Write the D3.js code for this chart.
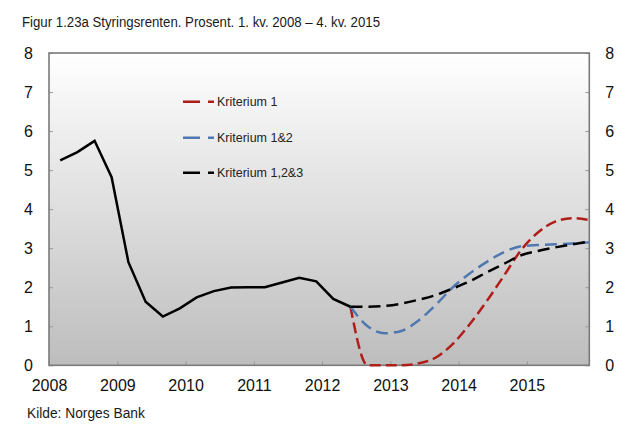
<!DOCTYPE html>
<html>
<head>
<meta charset="utf-8">
<script src="https://cdn.jsdelivr.net/npm/d3@7"></script>
<style>
  html, body { margin: 0; padding: 0; background: #fff; }
  svg { display: block; font-family: "Liberation Sans", Arial, sans-serif; }
</style>
</head>
<body>
<svg id="chart" width="643" height="437"></svg>
<script>
// ---- Data ----
const quarters = ["2008-03","2008-06","2008-09","2008-12","2009-03","2009-06","2009-09","2009-12",
  "2010-03","2010-06","2010-09","2010-12","2011-03","2011-06","2011-09","2011-12",
  "2012-03","2012-06","2012-09","2012-12","2013-03","2013-06","2013-09","2013-12",
  "2014-03","2014-06","2014-09","2014-12","2015-03","2015-06","2015-09","2015-12"];
const historic = [5.25,5.46,5.75,4.82,2.64,1.63,1.25,1.46,1.74,1.90,1.99,2.00,2.00,2.12,2.24,2.15,1.70,1.50];
// forecasts start at 2012 Q2 (index 17)
const kriterium1   = [1.50,0.00,0.00,0.00,0.05,0.20,0.55,1.05,1.65,2.30,2.95,3.40,3.68,3.77,3.72];
const kriterium12  = [1.50,1.00,0.82,0.88,1.15,1.55,2.00,2.35,2.65,2.90,3.05,3.08,3.10,3.12,3.15];
const kriterium123 = [1.50,1.50,1.52,1.58,1.68,1.80,1.97,2.15,2.38,2.60,2.82,2.93,3.02,3.10,3.17];
const yearTicks = [2008,2009,2010,2011,2012,2013,2014,2015];
const yTicks = [0,1,2,3,4,5,6,7,8];
const seriesNames = ["Kriterium 1","Kriterium 1&2","Kriterium 1,2&3"];
const forecastStart = 17;

// ---- Layout ----
const svg = d3.select("#chart");
const L = 49, R = 589.3, T = 53, B = 365.3;
const parse = d3.timeParse("%Y-%m");
const dates = quarters.map(parse);

const x = d3.scaleTime().domain([new Date(2008,0,1), new Date(2015,11,1)]).range([L, R]);
const y = d3.scaleLinear().domain([0, 8]).range([B, T]);

// background gradient
const defs = svg.append("defs");
const grad = defs.append("linearGradient").attr("id","bg").attr("x1",0).attr("y1",0).attr("x2",0).attr("y2",1);
grad.append("stop").attr("offset","0%").attr("stop-color","#ffffff");
grad.append("stop").attr("offset","100%").attr("stop-color","#bdbdbd");

svg.append("rect").attr("x",L).attr("y",T).attr("width",R-L).attr("height",B-T).attr("fill","url(#bg)");

// axes
const axisStyle = g => {
  g.select(".domain").remove();
  g.selectAll(".tick line").attr("stroke","#9a9a9a").attr("stroke-width",1);
  g.selectAll(".tick text").attr("fill","#111").attr("font-size","16px")
    .attr("font-family",'"Liberation Sans", Arial, sans-serif');
};
svg.append("g").attr("transform",`translate(${L},0)`)
  .call(d3.axisLeft(y).tickValues(yTicks).tickSize(-4).tickPadding(16).tickFormat(d3.format("d")))
  .call(axisStyle);
svg.append("g").attr("transform",`translate(${R},0)`)
  .call(d3.axisRight(y).tickValues(yTicks).tickSize(-4).tickPadding(16).tickFormat(d3.format("d")))
  .call(axisStyle);
svg.append("g").attr("transform",`translate(0,${B})`)
  .call(d3.axisBottom(x).tickValues(yearTicks.map(yr => new Date(yr,0,1))).tickSize(-4).tickPadding(14)
    .tickFormat(d3.timeFormat("%Y")))
  .call(axisStyle);

// border
svg.append("rect").attr("x",L).attr("y",T).attr("width",R-L).attr("height",B-T)
  .attr("fill","none").attr("stroke","#7a7a7a").attr("stroke-width",1.6);

// lines
const lineLin = d3.line().x(d => x(d[0])).y(d => y(d[1]));
const lineSmooth = d3.line().x(d => x(d[0])).y(d => y(d[1])).curve(d3.curveMonotoneX);

const series = [
  {name: seriesNames[0], values: kriterium1,   color: "#b01e1a", dash: "11,5"},
  {name: seriesNames[1], values: kriterium12,  color: "#4f78b0", dash: "12,6"},
  {name: seriesNames[2], values: kriterium123, color: "#000000", dash: "12,6"}
];
series.forEach(s => {
  const pts = s.values.map((v,i) => [dates[forecastStart + i], v]);
  svg.append("path").attr("d", lineSmooth(pts)).attr("fill","none")
    .attr("stroke", s.color).attr("stroke-width", 2.5).attr("stroke-dasharray", s.dash);
});
svg.append("path").attr("d", lineLin(historic.map((v,i) => [dates[i], v])))
  .attr("fill","none").attr("stroke","#000").attr("stroke-width",2.5).attr("stroke-linejoin","miter");

// legend
const legY = [101.7, 137.7, 172.7];
series.forEach((s, i) => {
  svg.append("line").attr("x1",183).attr("x2",214).attr("y1",legY[i]).attr("y2",legY[i])
    .attr("stroke", s.color).attr("stroke-width",2.5).attr("stroke-dasharray","17,8,6,50");
  svg.append("text").attr("x",217).attr("y",legY[i]).attr("dy","0.35em")
    .attr("font-size","12.5px").attr("fill","#222").text(s.name);
});

// title (condensed to the reference width)
svg.append("text").attr("x",22).attr("y",27).attr("font-size","15.5px").attr("fill","#1a1a1a")
  .attr("textLength", 358).attr("lengthAdjust","spacingAndGlyphs")
  .text("Figur 1.23a Styringsrenten. Prosent. 1. kv. 2008 \u2013 4. kv. 2015");

// source
const src = svg.append("text").attr("x",27).attr("y",417.5).attr("font-size","13.5px").attr("fill","#1a1a1a")
  .text("Kilde: Norges Bank");
const sw = src.node().getComputedTextLength();
src.attr("font-size", (13.5 * 118 / sw).toFixed(2) + "px");
</script>
</body>
</html>
